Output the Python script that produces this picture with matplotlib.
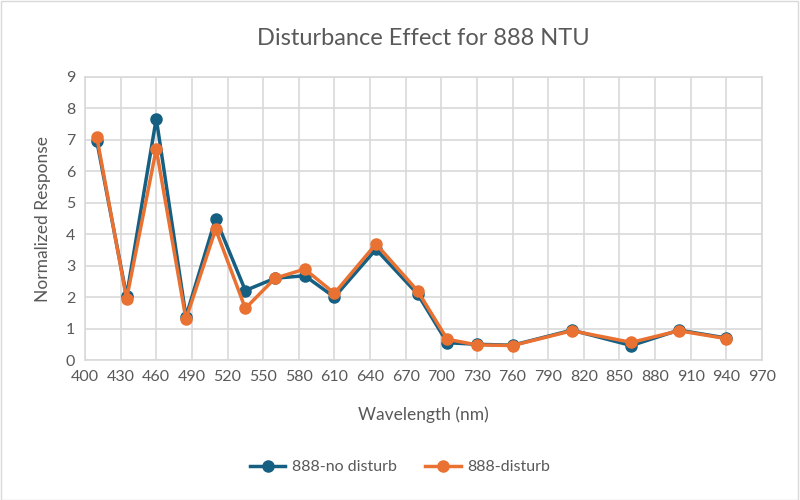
import matplotlib
matplotlib.use("Agg")
import matplotlib.pyplot as plt
from matplotlib.patches import Rectangle

wavelength = [410, 435, 460, 485, 510, 535, 560, 585, 610, 645, 680, 705, 730, 760, 810, 860, 900, 940]
no_disturb = [6.95, 2.03, 7.68, 1.38, 4.50, 2.21, 2.60, 2.68, 2.00, 3.52, 2.10, 0.55, 0.50, 0.47, 0.95, 0.46, 0.95, 0.70]
disturb = [7.08, 1.94, 6.71, 1.30, 4.16, 1.64, 2.60, 2.89, 2.12, 3.69, 2.20, 0.66, 0.48, 0.46, 0.93, 0.56, 0.93, 0.68]
series_names = ["888-no disturb", "888-disturb"]
title = "Disturbance Effect for 888 NTU"
x_label = "Wavelength (nm)"
y_label = "Normalized Response"

plt.rcParams['font.family'] = ['Lato', 'DejaVu Sans']
txt = "#595959"
grid_c = "#D9D9D9"

fig = plt.figure(figsize=(8, 5), dpi=100)
ax = fig.add_axes([85/800, 1-360/500, (762-85)/800, (360-77)/500])

ax.plot(wavelength, no_disturb, color="#156082", lw=2.5, marker="o", ms=8, label=series_names[0], zorder=3)
ax.plot(wavelength, disturb, color="#E97132", lw=2.5, marker="o", ms=8, label=series_names[1], zorder=4)

ax.set_xlim(400, 970)
ax.set_ylim(0, 9)
ax.set_xticks(range(400, 971, 30))
ax.set_yticks(range(0, 10))
ax.grid(True, color=grid_c, lw=1.2)
ax.set_axisbelow(True)
for s in ax.spines.values():
    s.set_color(grid_c)
    s.set_linewidth(1.2)
ax.tick_params(axis='both', length=0, labelsize=11.5, colors=txt, pad=7)

ax.set_title(title, fontsize=17, color=txt, pad=23)
ax.set_xlabel(x_label, fontsize=12.5, color=txt, labelpad=16)
ax.set_ylabel(y_label, fontsize=12.5, color=txt, labelpad=11)

fig.legend(loc="center", bbox_to_anchor=(0.5, 1 - 467/500), ncol=2, frameon=False,
           fontsize=11.5, labelcolor=txt, handlelength=2.2, handletextpad=0.4, columnspacing=1.8)

fig.patches.append(Rectangle((0.001, 0.001), 0.997, 0.997, transform=fig.transFigure,
                             fill=False, edgecolor="#D9D9D9", lw=1.0))

fig.savefig("out.png", dpi=100)
